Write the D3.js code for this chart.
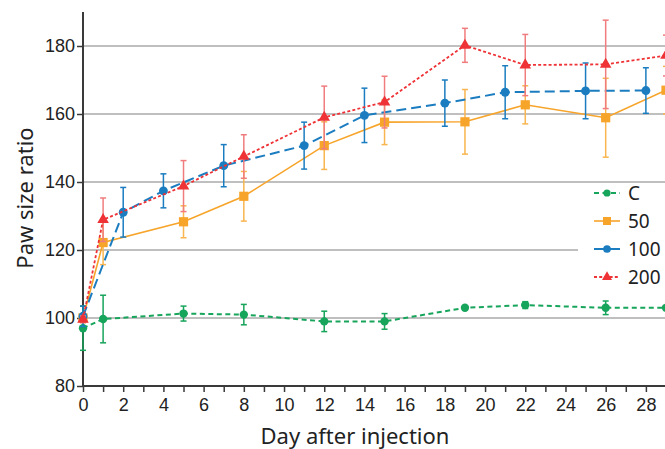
<!DOCTYPE html>
<html>
<head>
<meta charset="utf-8">
<script src="https://cdn.jsdelivr.net/npm/d3@7"></script>
<style>
  body { margin: 0; background: #fff; }
  svg { display: block; font-family: "Noto Sans", "Open Sans", sans-serif; }
</style>
</head>
<body>
<svg id="chart" width="665" height="449"></svg>
<script>
// data
const seriesNames = ["C", "50", "100", "200"];

const daysC = [0, 1, 5, 8, 12, 15, 19, 22, 26, 29];
const meanC = [97, 99.7, 101.3, 101, 99, 99, 103, 103.8, 103, 103];
const errC = [6.5, 7, 2.2, 3, 3, 2.3, 0.5, 1, 2, 0.5];

const days50 = [0, 1, 5, 8, 12, 15, 19, 22, 26, 29];
const mean50 = [100, 122.2, 128.3, 135.8, 150.7, 157.6, 157.7, 162.7, 158.9, 167];
const err50 = [1, 6.5, 4.7, 7.3, 7, 6.6, 9.5, 5.6, 11.6, 7];

const days100 = [0, 2, 4, 7, 11, 14, 18, 21, 25, 28];
const mean100 = [100.5, 131.1, 137.4, 144.8, 150.7, 159.6, 163.2, 166.4, 166.8, 166.9];
const err100 = [3, 7.3, 5, 6.2, 6.9, 8, 6.8, 7.8, 8.2, 6.7];

const days200 = [0, 1, 5, 8, 12, 15, 19, 22, 26, 29];
const mean200 = [99.6, 128.9, 138.8, 147.5, 159, 163.5, 180.2, 174.4, 174.6, 177.2];
const err200 = [1, 6.4, 7.5, 6.4, 9.2, 7.6, 5, 9, 13, 6];

const yTicks = [80, 100, 120, 140, 160, 180];
const xTickLabels = [0, 2, 4, 6, 8, 10, 12, 14, 16, 18, 20, 22, 24, 26, 28];

const svg = d3.select("#chart");

const x = d3.scaleLinear().domain([0, 29.1]).range([83, 668]);
const y = d3.scaleLinear().domain([80, 190]).range([386, 12]);

const styles = {
  "C":   { color: "#17a45b", errColor: "#17a45b", dash: "5,3.5", width: 2, shape: d3.symbolCircle, size: 55 },
  "50":  { color: "#f7a42a", errColor: "#f9b54f", dash: null, width: 1.6, shape: d3.symbolSquare, size: 85 },
  "100": { color: "#1b7dc0", errColor: "#1b7dc0", dash: "10,5", width: 2, shape: d3.symbolCircle, size: 62 },
  "200": { color: "#ee3236", errColor: "#f07c7e", dash: "3,2.2", width: 1.8, shape: d3.symbolTriangle, size: 58 }
};

const buildSeries = (name, days, means, errs) =>
  days.map((d, i) => ({ name: name, day: d, value: means[i], err: errs[i] }));

const allSeries = [
  buildSeries("C", daysC, meanC, errC),
  buildSeries("50", days50, mean50, err50),
  buildSeries("100", days100, mean100, err100),
  buildSeries("200", days200, mean200, err200)
];

// gridlines
const gridGroup = svg.append("g");
yTicks.filter(t => t > 80).forEach(t => {
  gridGroup.append("line")
    .attr("x1", x(0))
    .attr("x2", t === 120 ? 578 : 665)
    .attr("y1", y(t))
    .attr("y2", y(t))
    .attr("stroke", "#aaaaaa")
    .attr("stroke-width", 1.5);
});

// axes
const xAxis = svg.append("g")
  .attr("transform", `translate(0,${y(80)})`)
  .call(d3.axisBottom(x).tickValues(d3.range(0, 30)).tickSize(6).tickFormat(d => xTickLabels.includes(d) ? d : ""));

const yAxis = svg.append("g")
  .attr("transform", `translate(${x(0)},0)`)
  .call(d3.axisLeft(y).tickValues(yTicks).tickSize(6).tickSizeOuter(0));

[xAxis, yAxis].forEach(ax => {
  ax.select(".domain").attr("stroke", "#3a3a3a").attr("stroke-width", 2);
  ax.selectAll(".tick line").attr("stroke", "#3a3a3a").attr("stroke-width", 1.5);
  ax.selectAll(".tick text").attr("fill", "#222").attr("font-size", 18);
});
xAxis.select(".domain").attr("d", `M${x(0)},0H665`);
yAxis.select(".domain").attr("d", `M0,${y(190)}V${y(80)}`);
xAxis.selectAll(".tick text").attr("dy", "0.9em");
yAxis.selectAll(".tick text").attr("x", -8);

// axis titles
svg.append("text")
  .attr("x", 355)
  .attr("y", 444)
  .attr("text-anchor", "middle")
  .attr("font-size", 22)
  .attr("fill", "#222")
  .text("Day after injection");

svg.append("text")
  .attr("transform", "translate(33,198) rotate(-90)")
  .attr("text-anchor", "middle")
  .attr("font-size", 22)
  .attr("fill", "#222")
  .text("Paw size ratio");

// series
const line = d3.line().x(d => x(d.day)).y(d => y(d.value));

allSeries.forEach(series => {
  const st = styles[series[0].name];
  const g = svg.append("g");

  // error bars
  const eb = g.append("g")
    .attr("stroke", st.errColor)
    .attr("stroke-width", 1.5);

  const withErr = series.filter(d => d.err > 0.6);

  eb.selectAll("line.bar")
    .data(withErr)
    .join("line")
    .attr("class", "bar")
    .attr("x1", d => x(d.day))
    .attr("x2", d => x(d.day))
    .attr("y1", d => y(d.value - d.err))
    .attr("y2", d => y(d.value + d.err));

  eb.selectAll("line.capTop")
    .data(withErr)
    .join("line")
    .attr("class", "capTop")
    .attr("x1", d => x(d.day) - 3)
    .attr("x2", d => x(d.day) + 3)
    .attr("y1", d => y(d.value + d.err))
    .attr("y2", d => y(d.value + d.err));

  eb.selectAll("line.capBottom")
    .data(withErr)
    .join("line")
    .attr("class", "capBottom")
    .attr("x1", d => x(d.day) - 3)
    .attr("x2", d => x(d.day) + 3)
    .attr("y1", d => y(d.value - d.err))
    .attr("y2", d => y(d.value - d.err));

  g.append("path")
    .datum(series)
    .attr("fill", "none")
    .attr("stroke", st.color)
    .attr("stroke-width", st.width)
    .attr("stroke-dasharray", st.dash)
    .attr("d", line);

  g.selectAll("path.marker")
    .data(series)
    .join("path")
    .attr("class", "marker")
    .attr("transform", d => `translate(${x(d.day)},${y(d.value)})`)
    .attr("d", d3.symbol().type(st.shape).size(st.size))
    .attr("fill", st.color);
});

// legend
const legend = svg.append("g").attr("transform", "translate(594,0)");
seriesNames.forEach((name, i) => {
  const st = styles[name];
  const ly = 193 + i * 28;
  legend.append("line")
    .attr("x1", 0).attr("x2", 26)
    .attr("y1", ly).attr("y2", ly)
    .attr("stroke", st.color)
    .attr("stroke-width", st.width)
    .attr("stroke-dasharray", name === "100" ? null : st.dash);
  legend.append("path")
    .attr("transform", `translate(13,${ly})`)
    .attr("d", d3.symbol().type(st.shape).size(st.size * 0.75))
    .attr("fill", st.color);
  legend.append("text")
    .attr("x", 34)
    .attr("y", ly)
    .attr("dy", "0.36em")
    .attr("font-size", 19)
    .attr("fill", "#222")
    .text(name);
});
</script>
</body>
</html>
